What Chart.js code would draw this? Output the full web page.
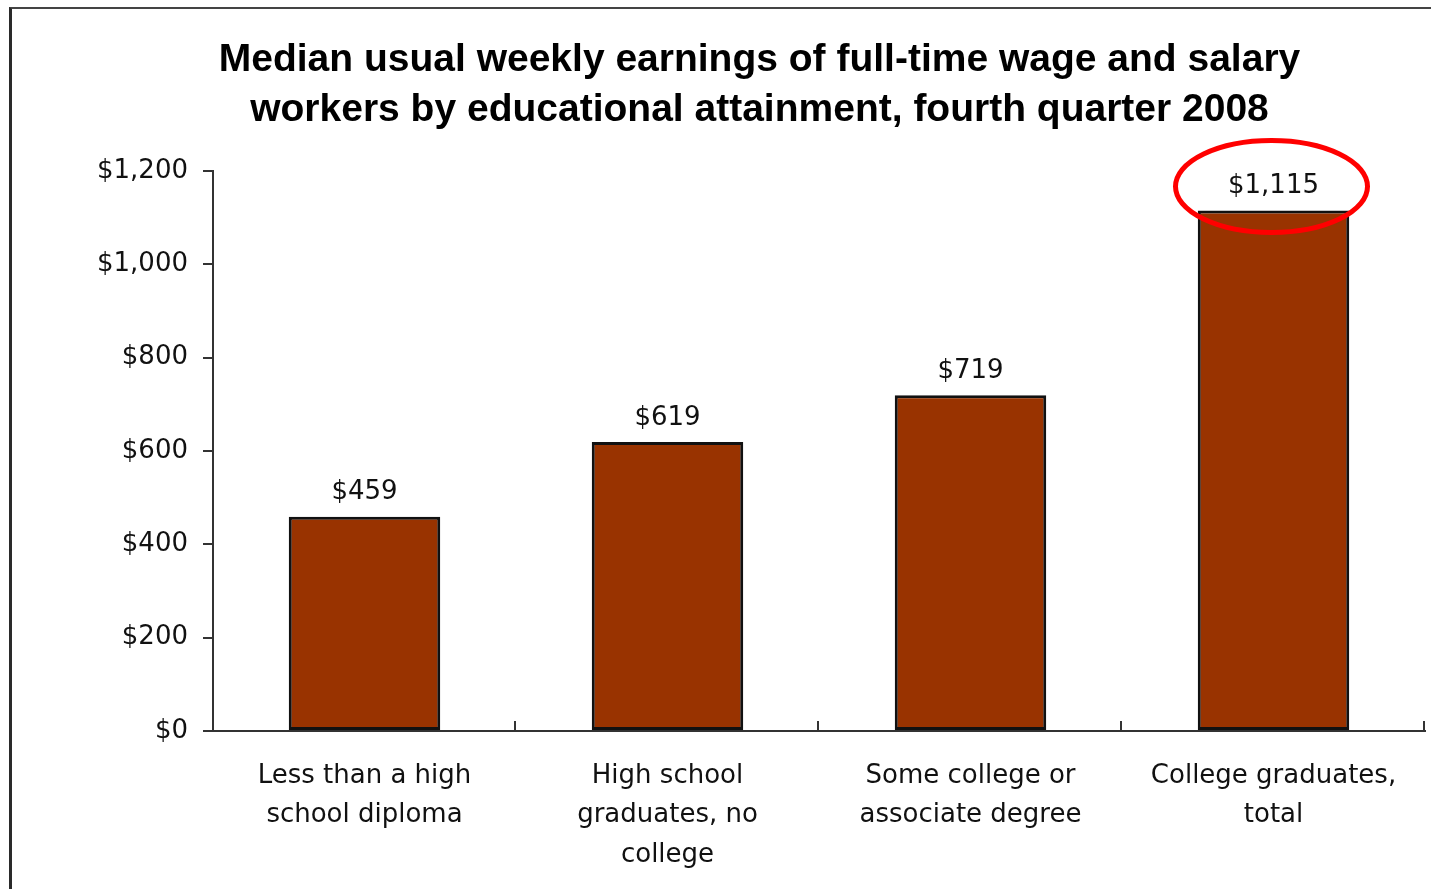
<!DOCTYPE html>
<html>
<head>
<meta charset="utf-8">
<title>Median usual weekly earnings by educational attainment</title>
<script src="https://cdn.jsdelivr.net/npm/chart.js@4.4.1/dist/chart.umd.min.js"></script>
<style>
    html, body { margin: 0; padding: 0; background: #fff; }
    .frame {
        position: absolute;
        left: 9px;
        top: 7px;
        width: 1440px;
        height: 900px;
        border-left: 3px solid #2a2a2a;
        border-top: 2px solid #444;
    }
    .chart-box {
        position: absolute;
        left: 0;
        top: 0;
        width: 1431px;
        height: 889px;
    }
</style>
</head>
<body>
<div class="frame"></div>
<div class="chart-box">
    <canvas id="earningsChart" width="1431" height="889"></canvas>
</div>

<script>
// Chart data
const categories = [
    ['Less than a high', 'school diploma'],
    ['High school', 'graduates, no', 'college'],
    ['Some college or', 'associate degree'],
    ['College graduates,', 'total']
];
const earnings = [459, 619, 719, 1115];
const yTicks = [0, 200, 400, 600, 800, 1000, 1200];
const highlightIndex = 3;

function formatDollars(value) {
    return '$' + Number(value).toLocaleString('en-US');
}

// Value labels above each bar
const valueLabels = {
    id: 'valueLabels',
    afterDatasetsDraw(chart) {
        const ctx = chart.ctx;
        const meta = chart.getDatasetMeta(0);
        ctx.save();
        ctx.font = '26px "DejaVu Sans"';
        ctx.fillStyle = '#111';
        ctx.textAlign = 'center';
        ctx.textBaseline = 'middle';
        meta.data.forEach((bar, i) => {
            ctx.fillText(formatDollars(earnings[i]), bar.x, bar.y - 24);
        });
        ctx.restore();
    }
};

// Small upward tick marks between categories
const categoryTicks = {
    id: 'categoryTicks',
    afterDraw(chart) {
        const { ctx, chartArea } = chart;
        const step = (chartArea.right - chartArea.left) / categories.length;
        ctx.save();
        ctx.strokeStyle = '#333';
        ctx.lineWidth = 2;
        for (let i = 1; i <= categories.length; i++) {
            const x = Math.round(chartArea.left + step * i) - 1;
            ctx.beginPath();
            ctx.moveTo(x, chartArea.bottom);
            ctx.lineTo(x, chartArea.bottom - 10);
            ctx.stroke();
        }
        ctx.restore();
    }
};

// Red ellipse around the highlighted value
const highlightEllipse = {
    id: 'highlightEllipse',
    afterDraw(chart) {
        const bar = chart.getDatasetMeta(0).data[highlightIndex];
        if (!bar) return;
        const ctx = chart.ctx;
        ctx.save();
        ctx.strokeStyle = '#ff0000';
        ctx.lineWidth = 5;
        ctx.beginPath();
        ctx.ellipse(bar.x - 2, bar.y - 24, 96, 46, 0, 0, Math.PI * 2);
        ctx.stroke();
        ctx.restore();
    }
};

document.addEventListener('DOMContentLoaded', function() {
    const ctx = document.getElementById('earningsChart');

    new Chart(ctx, {
        type: 'bar',
        data: {
            labels: categories,
            datasets: [{
                data: earnings,
                backgroundColor: '#993300',
                borderColor: '#111',
                borderWidth: 3,
                borderSkipped: false,
                categoryPercentage: 1,
                barPercentage: 0.5
            }]
        },
        options: {
            responsive: false,
            animation: false,
            layout: { padding: { top: 0, right: 6, bottom: 0, left: 94 } },
            plugins: {
                legend: { display: false },
                tooltip: { enabled: false },
                title: {
                    display: true,
                    text: [
                        'Median usual weekly earnings of full-time wage and salary',
                        'workers by educational attainment, fourth quarter 2008'
                    ],
                    color: '#000',
                    font: { family: '"Liberation Sans", Arial, sans-serif', size: 39, weight: 'bold', lineHeight: 1.28 },
                    padding: { top: 35, bottom: 36 }
                }
            },
            scales: {
                x: {
                    grid: { display: true, drawOnChartArea: false, drawTicks: false },
                    border: { display: true, color: '#333', width: 2 },
                    ticks: {
                        color: '#111',
                        padding: 25,
                        maxRotation: 0,
                        autoSkip: false,
                        font: { family: '"DejaVu Sans", sans-serif', size: 26, lineHeight: 1.52 }
                    },
                    afterFit(scale) { scale.height = 158; }
                },
                y: {
                    min: 0,
                    max: 1200,
                    afterBuildTicks(scale) {
                        scale.ticks = yTicks.map(v => ({ value: v }));
                    },
                    grid: { display: true, drawOnChartArea: false, drawTicks: true, tickLength: 10, color: '#333', lineWidth: 2 },
                    border: { display: true, color: '#333', width: 2 },
                    ticks: {
                        color: '#111',
                        padding: 15,
                        font: { family: '"DejaVu Sans", sans-serif', size: 26 },
                        callback: value => formatDollars(value)
                    },
                    afterFit(scale) { scale.width = 119; }
                }
            }
        },
        plugins: [valueLabels, categoryTicks, highlightEllipse]
    });
});
</script>
</body>
</html>
